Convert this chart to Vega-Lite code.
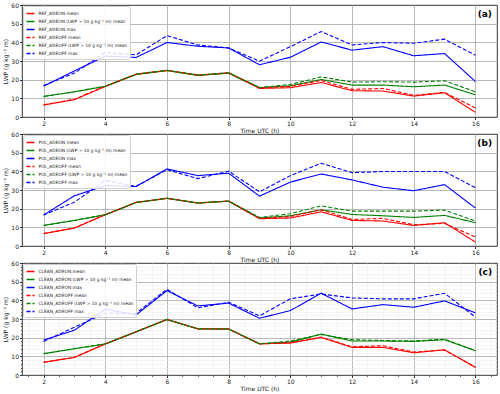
{
"$schema": "https://vega.github.io/schema/vega-lite/v6.json",
"padding": {"left": 2, "top": 1, "right": 4, "bottom": 2},
"config": {"font": "DejaVu Sans", "view": {"stroke": "#000", "strokeWidth": 0.8},
  "axis": {"labelOverlap": false, "labelFlush": false, "titleFontSize": 6, "titleFontWeight": "normal", "titleColor": "#222", "labelFontSize": 6, "labelColor": "#222", "labelPadding": 1, "tickSize": 2.5, "tickColor": "#000", "tickWidth": 0.8, "domain": false, "gridColor": "#b0b0b0", "gridWidth": 0.9},
  "legend": {"title": null, "orient": "top-left", "offset": 1, "labelFontSize": 4.4, "labelColor": "#222", "symbolType": "stroke", "symbolSize": 64, "symbolStrokeWidth": 1.4, "rowPadding": -0.8, "padding": 2.5, "strokeColor": "#d0d0d0", "fillColor": "rgba(255,255,255,0.85)", "cornerRadius": 2, "labelLimit": 300, "labelOffset": 3}},
"data": {"values": [
{"p":"a","s":"REF_ADEON mean","t":2,"v":6.4},{"p":"a","s":"REF_ADEON mean","t":3,"v":9.3},{"p":"a","s":"REF_ADEON mean","t":4,"v":16.4},{"p":"a","s":"REF_ADEON mean","t":5,"v":22.8},{"p":"a","s":"REF_ADEON mean","t":6,"v":24.9},{"p":"a","s":"REF_ADEON mean","t":7,"v":22.3},{"p":"a","s":"REF_ADEON mean","t":8,"v":23.5},{"p":"a","s":"REF_ADEON mean","t":9,"v":15.3},{"p":"a","s":"REF_ADEON mean","t":10,"v":15.7},{"p":"a","s":"REF_ADEON mean","t":11,"v":18.5},{"p":"a","s":"REF_ADEON mean","t":12,"v":14.1},{"p":"a","s":"REF_ADEON mean","t":13,"v":13.9},{"p":"a","s":"REF_ADEON mean","t":14,"v":11.2},{"p":"a","s":"REF_ADEON mean","t":15,"v":13.0},{"p":"a","s":"REF_ADEON mean","t":16,"v":2.5},
{"p":"a","s":"REF_ADEON (LWP > 10 g kg⁻¹ m) mean","t":2,"v":11.0},{"p":"a","s":"REF_ADEON (LWP > 10 g kg⁻¹ m) mean","t":3,"v":13.5},{"p":"a","s":"REF_ADEON (LWP > 10 g kg⁻¹ m) mean","t":4,"v":16.4},{"p":"a","s":"REF_ADEON (LWP > 10 g kg⁻¹ m) mean","t":5,"v":22.8},{"p":"a","s":"REF_ADEON (LWP > 10 g kg⁻¹ m) mean","t":6,"v":24.9},{"p":"a","s":"REF_ADEON (LWP > 10 g kg⁻¹ m) mean","t":7,"v":22.3},{"p":"a","s":"REF_ADEON (LWP > 10 g kg⁻¹ m) mean","t":8,"v":23.5},{"p":"a","s":"REF_ADEON (LWP > 10 g kg⁻¹ m) mean","t":9,"v":15.7},{"p":"a","s":"REF_ADEON (LWP > 10 g kg⁻¹ m) mean","t":10,"v":16.7},{"p":"a","s":"REF_ADEON (LWP > 10 g kg⁻¹ m) mean","t":11,"v":20.1},{"p":"a","s":"REF_ADEON (LWP > 10 g kg⁻¹ m) mean","t":12,"v":17.1},{"p":"a","s":"REF_ADEON (LWP > 10 g kg⁻¹ m) mean","t":13,"v":17.1},{"p":"a","s":"REF_ADEON (LWP > 10 g kg⁻¹ m) mean","t":14,"v":16.2},{"p":"a","s":"REF_ADEON (LWP > 10 g kg⁻¹ m) mean","t":15,"v":17.1},{"p":"a","s":"REF_ADEON (LWP > 10 g kg⁻¹ m) mean","t":16,"v":11.9},
{"p":"a","s":"REF_ADEON max","t":2,"v":16.5},{"p":"a","s":"REF_ADEON max","t":3,"v":24.7},{"p":"a","s":"REF_ADEON max","t":4,"v":32.6},{"p":"a","s":"REF_ADEON max","t":5,"v":31.9},{"p":"a","s":"REF_ADEON max","t":6,"v":39.9},{"p":"a","s":"REF_ADEON max","t":7,"v":37.9},{"p":"a","s":"REF_ADEON max","t":8,"v":37.0},{"p":"a","s":"REF_ADEON max","t":9,"v":28.0},{"p":"a","s":"REF_ADEON max","t":10,"v":32.0},{"p":"a","s":"REF_ADEON max","t":11,"v":40.2},{"p":"a","s":"REF_ADEON max","t":12,"v":35.8},{"p":"a","s":"REF_ADEON max","t":13,"v":37.7},{"p":"a","s":"REF_ADEON max","t":14,"v":32.8},{"p":"a","s":"REF_ADEON max","t":15,"v":34.0},{"p":"a","s":"REF_ADEON max","t":16,"v":19.0},
{"p":"a","s":"REF_ADEOFF mean","t":2,"v":6.5},{"p":"a","s":"REF_ADEOFF mean","t":3,"v":9.5},{"p":"a","s":"REF_ADEOFF mean","t":4,"v":16.5},{"p":"a","s":"REF_ADEOFF mean","t":5,"v":23.0},{"p":"a","s":"REF_ADEOFF mean","t":6,"v":25.0},{"p":"a","s":"REF_ADEOFF mean","t":7,"v":22.5},{"p":"a","s":"REF_ADEOFF mean","t":8,"v":23.7},{"p":"a","s":"REF_ADEOFF mean","t":9,"v":15.7},{"p":"a","s":"REF_ADEOFF mean","t":10,"v":16.4},{"p":"a","s":"REF_ADEOFF mean","t":11,"v":19.6},{"p":"a","s":"REF_ADEOFF mean","t":12,"v":14.8},{"p":"a","s":"REF_ADEOFF mean","t":13,"v":15.3},{"p":"a","s":"REF_ADEOFF mean","t":14,"v":11.6},{"p":"a","s":"REF_ADEOFF mean","t":15,"v":13.2},{"p":"a","s":"REF_ADEOFF mean","t":16,"v":4.8},
{"p":"a","s":"REF_ADEOFF (LWP > 10 g kg⁻¹ m) mean","t":2,"v":11.0},{"p":"a","s":"REF_ADEOFF (LWP > 10 g kg⁻¹ m) mean","t":3,"v":13.5},{"p":"a","s":"REF_ADEOFF (LWP > 10 g kg⁻¹ m) mean","t":4,"v":16.5},{"p":"a","s":"REF_ADEOFF (LWP > 10 g kg⁻¹ m) mean","t":5,"v":23.0},{"p":"a","s":"REF_ADEOFF (LWP > 10 g kg⁻¹ m) mean","t":6,"v":25.0},{"p":"a","s":"REF_ADEOFF (LWP > 10 g kg⁻¹ m) mean","t":7,"v":22.5},{"p":"a","s":"REF_ADEOFF (LWP > 10 g kg⁻¹ m) mean","t":8,"v":23.7},{"p":"a","s":"REF_ADEOFF (LWP > 10 g kg⁻¹ m) mean","t":9,"v":15.8},{"p":"a","s":"REF_ADEOFF (LWP > 10 g kg⁻¹ m) mean","t":10,"v":17.4},{"p":"a","s":"REF_ADEOFF (LWP > 10 g kg⁻¹ m) mean","t":11,"v":21.5},{"p":"a","s":"REF_ADEOFF (LWP > 10 g kg⁻¹ m) mean","t":12,"v":18.7},{"p":"a","s":"REF_ADEOFF (LWP > 10 g kg⁻¹ m) mean","t":13,"v":18.9},{"p":"a","s":"REF_ADEOFF (LWP > 10 g kg⁻¹ m) mean","t":14,"v":18.7},{"p":"a","s":"REF_ADEOFF (LWP > 10 g kg⁻¹ m) mean","t":15,"v":19.4},{"p":"a","s":"REF_ADEOFF (LWP > 10 g kg⁻¹ m) mean","t":16,"v":13.5},
{"p":"a","s":"REF_ADEOFF max","t":2,"v":16.9},{"p":"a","s":"REF_ADEOFF max","t":3,"v":23.5},{"p":"a","s":"REF_ADEOFF max","t":4,"v":34.5},{"p":"a","s":"REF_ADEOFF max","t":5,"v":33.3},{"p":"a","s":"REF_ADEOFF max","t":6,"v":43.6},{"p":"a","s":"REF_ADEOFF max","t":7,"v":38.6},{"p":"a","s":"REF_ADEOFF max","t":8,"v":37.0},{"p":"a","s":"REF_ADEOFF max","t":9,"v":29.9},{"p":"a","s":"REF_ADEOFF max","t":10,"v":37.7},{"p":"a","s":"REF_ADEOFF max","t":11,"v":45.8},{"p":"a","s":"REF_ADEOFF max","t":12,"v":38.6},{"p":"a","s":"REF_ADEOFF max","t":13,"v":39.9},{"p":"a","s":"REF_ADEOFF max","t":14,"v":39.5},{"p":"a","s":"REF_ADEOFF max","t":15,"v":41.7},{"p":"a","s":"REF_ADEOFF max","t":16,"v":33.1},
{"p":"b","s":"POL_ADEON mean","t":2,"v":6.6},{"p":"b","s":"POL_ADEON mean","t":3,"v":9.6},{"p":"b","s":"POL_ADEON mean","t":4,"v":16.7},{"p":"b","s":"POL_ADEON mean","t":5,"v":23.3},{"p":"b","s":"POL_ADEON mean","t":6,"v":25.5},{"p":"b","s":"POL_ADEON mean","t":7,"v":23.0},{"p":"b","s":"POL_ADEON mean","t":8,"v":24.0},{"p":"b","s":"POL_ADEON mean","t":9,"v":14.6},{"p":"b","s":"POL_ADEON mean","t":10,"v":15.0},{"p":"b","s":"POL_ADEON mean","t":11,"v":18.3},{"p":"b","s":"POL_ADEON mean","t":12,"v":13.7},{"p":"b","s":"POL_ADEON mean","t":13,"v":13.4},{"p":"b","s":"POL_ADEON mean","t":14,"v":11.0},{"p":"b","s":"POL_ADEON mean","t":15,"v":12.5},{"p":"b","s":"POL_ADEON mean","t":16,"v":2.1},
{"p":"b","s":"POL_ADEON (LWP > 10 g kg⁻¹ m) mean","t":2,"v":11.0},{"p":"b","s":"POL_ADEON (LWP > 10 g kg⁻¹ m) mean","t":3,"v":13.7},{"p":"b","s":"POL_ADEON (LWP > 10 g kg⁻¹ m) mean","t":4,"v":16.7},{"p":"b","s":"POL_ADEON (LWP > 10 g kg⁻¹ m) mean","t":5,"v":23.3},{"p":"b","s":"POL_ADEON (LWP > 10 g kg⁻¹ m) mean","t":6,"v":25.5},{"p":"b","s":"POL_ADEON (LWP > 10 g kg⁻¹ m) mean","t":7,"v":23.0},{"p":"b","s":"POL_ADEON (LWP > 10 g kg⁻¹ m) mean","t":8,"v":24.0},{"p":"b","s":"POL_ADEON (LWP > 10 g kg⁻¹ m) mean","t":9,"v":15.0},{"p":"b","s":"POL_ADEON (LWP > 10 g kg⁻¹ m) mean","t":10,"v":16.2},{"p":"b","s":"POL_ADEON (LWP > 10 g kg⁻¹ m) mean","t":11,"v":19.4},{"p":"b","s":"POL_ADEON (LWP > 10 g kg⁻¹ m) mean","t":12,"v":16.9},{"p":"b","s":"POL_ADEON (LWP > 10 g kg⁻¹ m) mean","t":13,"v":16.2},{"p":"b","s":"POL_ADEON (LWP > 10 g kg⁻¹ m) mean","t":14,"v":15.3},{"p":"b","s":"POL_ADEON (LWP > 10 g kg⁻¹ m) mean","t":15,"v":16.4},{"p":"b","s":"POL_ADEON (LWP > 10 g kg⁻¹ m) mean","t":16,"v":12.5},
{"p":"b","s":"POL_ADEON max","t":2,"v":16.6},{"p":"b","s":"POL_ADEON max","t":3,"v":26.9},{"p":"b","s":"POL_ADEON max","t":4,"v":32.4},{"p":"b","s":"POL_ADEON max","t":5,"v":31.9},{"p":"b","s":"POL_ADEON max","t":6,"v":41.3},{"p":"b","s":"POL_ADEON max","t":7,"v":37.7},{"p":"b","s":"POL_ADEON max","t":8,"v":39.0},{"p":"b","s":"POL_ADEON max","t":9,"v":26.7},{"p":"b","s":"POL_ADEON max","t":10,"v":34.2},{"p":"b","s":"POL_ADEON max","t":11,"v":38.6},{"p":"b","s":"POL_ADEON max","t":12,"v":35.4},{"p":"b","s":"POL_ADEON max","t":13,"v":31.5},{"p":"b","s":"POL_ADEON max","t":14,"v":29.6},{"p":"b","s":"POL_ADEON max","t":15,"v":32.9},{"p":"b","s":"POL_ADEON max","t":16,"v":20.3},
{"p":"b","s":"POL_ADEOFF mean","t":2,"v":6.7},{"p":"b","s":"POL_ADEOFF mean","t":3,"v":9.7},{"p":"b","s":"POL_ADEOFF mean","t":4,"v":16.8},{"p":"b","s":"POL_ADEOFF mean","t":5,"v":23.4},{"p":"b","s":"POL_ADEOFF mean","t":6,"v":25.6},{"p":"b","s":"POL_ADEOFF mean","t":7,"v":23.1},{"p":"b","s":"POL_ADEOFF mean","t":8,"v":24.1},{"p":"b","s":"POL_ADEOFF mean","t":9,"v":14.8},{"p":"b","s":"POL_ADEOFF mean","t":10,"v":15.8},{"p":"b","s":"POL_ADEOFF mean","t":11,"v":19.4},{"p":"b","s":"POL_ADEOFF mean","t":12,"v":14.2},{"p":"b","s":"POL_ADEOFF mean","t":13,"v":14.8},{"p":"b","s":"POL_ADEOFF mean","t":14,"v":11.4},{"p":"b","s":"POL_ADEOFF mean","t":15,"v":12.1},{"p":"b","s":"POL_ADEOFF mean","t":16,"v":4.8},
{"p":"b","s":"POL_ADEOFF (LWP > 10 g kg⁻¹ m) mean","t":2,"v":11.0},{"p":"b","s":"POL_ADEOFF (LWP > 10 g kg⁻¹ m) mean","t":3,"v":13.7},{"p":"b","s":"POL_ADEOFF (LWP > 10 g kg⁻¹ m) mean","t":4,"v":16.8},{"p":"b","s":"POL_ADEOFF (LWP > 10 g kg⁻¹ m) mean","t":5,"v":23.4},{"p":"b","s":"POL_ADEOFF (LWP > 10 g kg⁻¹ m) mean","t":6,"v":25.6},{"p":"b","s":"POL_ADEOFF (LWP > 10 g kg⁻¹ m) mean","t":7,"v":23.1},{"p":"b","s":"POL_ADEOFF (LWP > 10 g kg⁻¹ m) mean","t":8,"v":24.1},{"p":"b","s":"POL_ADEOFF (LWP > 10 g kg⁻¹ m) mean","t":9,"v":15.3},{"p":"b","s":"POL_ADEOFF (LWP > 10 g kg⁻¹ m) mean","t":10,"v":17.3},{"p":"b","s":"POL_ADEOFF (LWP > 10 g kg⁻¹ m) mean","t":11,"v":21.5},{"p":"b","s":"POL_ADEOFF (LWP > 10 g kg⁻¹ m) mean","t":12,"v":18.7},{"p":"b","s":"POL_ADEOFF (LWP > 10 g kg⁻¹ m) mean","t":13,"v":18.7},{"p":"b","s":"POL_ADEOFF (LWP > 10 g kg⁻¹ m) mean","t":14,"v":18.7},{"p":"b","s":"POL_ADEOFF (LWP > 10 g kg⁻¹ m) mean","t":15,"v":19.2},{"p":"b","s":"POL_ADEOFF (LWP > 10 g kg⁻¹ m) mean","t":16,"v":13.4},
{"p":"b","s":"POL_ADEOFF max","t":2,"v":16.6},{"p":"b","s":"POL_ADEOFF max","t":3,"v":23.5},{"p":"b","s":"POL_ADEOFF max","t":4,"v":35.1},{"p":"b","s":"POL_ADEOFF max","t":5,"v":31.9},{"p":"b","s":"POL_ADEOFF max","t":6,"v":40.9},{"p":"b","s":"POL_ADEOFF max","t":7,"v":36.1},{"p":"b","s":"POL_ADEOFF max","t":8,"v":40.1},{"p":"b","s":"POL_ADEOFF max","t":9,"v":29.0},{"p":"b","s":"POL_ADEOFF max","t":10,"v":37.7},{"p":"b","s":"POL_ADEOFF max","t":11,"v":44.3},{"p":"b","s":"POL_ADEOFF max","t":12,"v":39.3},{"p":"b","s":"POL_ADEOFF max","t":13,"v":39.9},{"p":"b","s":"POL_ADEOFF max","t":14,"v":39.9},{"p":"b","s":"POL_ADEOFF max","t":15,"v":39.9},{"p":"b","s":"POL_ADEOFF max","t":16,"v":31.2},
{"p":"c","s":"CLEAN_ADEON mean","t":2,"v":6.8},{"p":"c","s":"CLEAN_ADEON mean","t":3,"v":9.4},{"p":"c","s":"CLEAN_ADEON mean","t":4,"v":16.6},{"p":"c","s":"CLEAN_ADEON mean","t":5,"v":23.1},{"p":"c","s":"CLEAN_ADEON mean","t":6,"v":29.7},{"p":"c","s":"CLEAN_ADEON mean","t":7,"v":24.7},{"p":"c","s":"CLEAN_ADEON mean","t":8,"v":24.6},{"p":"c","s":"CLEAN_ADEON mean","t":9,"v":16.7},{"p":"c","s":"CLEAN_ADEON mean","t":10,"v":17.1},{"p":"c","s":"CLEAN_ADEON mean","t":11,"v":20.1},{"p":"c","s":"CLEAN_ADEON mean","t":12,"v":14.8},{"p":"c","s":"CLEAN_ADEON mean","t":13,"v":14.8},{"p":"c","s":"CLEAN_ADEON mean","t":14,"v":11.9},{"p":"c","s":"CLEAN_ADEON mean","t":15,"v":13.5},{"p":"c","s":"CLEAN_ADEON mean","t":16,"v":4.1},
{"p":"c","s":"CLEAN_ADEON (LWP > 10 g kg⁻¹ m) mean","t":2,"v":11.4},{"p":"c","s":"CLEAN_ADEON (LWP > 10 g kg⁻¹ m) mean","t":3,"v":14.1},{"p":"c","s":"CLEAN_ADEON (LWP > 10 g kg⁻¹ m) mean","t":4,"v":16.6},{"p":"c","s":"CLEAN_ADEON (LWP > 10 g kg⁻¹ m) mean","t":5,"v":23.1},{"p":"c","s":"CLEAN_ADEON (LWP > 10 g kg⁻¹ m) mean","t":6,"v":29.7},{"p":"c","s":"CLEAN_ADEON (LWP > 10 g kg⁻¹ m) mean","t":7,"v":24.7},{"p":"c","s":"CLEAN_ADEON (LWP > 10 g kg⁻¹ m) mean","t":8,"v":24.6},{"p":"c","s":"CLEAN_ADEON (LWP > 10 g kg⁻¹ m) mean","t":9,"v":16.7},{"p":"c","s":"CLEAN_ADEON (LWP > 10 g kg⁻¹ m) mean","t":10,"v":17.6},{"p":"c","s":"CLEAN_ADEON (LWP > 10 g kg⁻¹ m) mean","t":11,"v":21.9},{"p":"c","s":"CLEAN_ADEON (LWP > 10 g kg⁻¹ m) mean","t":12,"v":18.2},{"p":"c","s":"CLEAN_ADEON (LWP > 10 g kg⁻¹ m) mean","t":13,"v":18.2},{"p":"c","s":"CLEAN_ADEON (LWP > 10 g kg⁻¹ m) mean","t":14,"v":18.0},{"p":"c","s":"CLEAN_ADEON (LWP > 10 g kg⁻¹ m) mean","t":15,"v":18.9},{"p":"c","s":"CLEAN_ADEON (LWP > 10 g kg⁻¹ m) mean","t":16,"v":13.0},
{"p":"c","s":"CLEAN_ADEON max","t":2,"v":18.7},{"p":"c","s":"CLEAN_ADEON max","t":3,"v":24.0},{"p":"c","s":"CLEAN_ADEON max","t":4,"v":35.3},{"p":"c","s":"CLEAN_ADEON max","t":5,"v":32.2},{"p":"c","s":"CLEAN_ADEON max","t":6,"v":45.2},{"p":"c","s":"CLEAN_ADEON max","t":7,"v":37.0},{"p":"c","s":"CLEAN_ADEON max","t":8,"v":38.5},{"p":"c","s":"CLEAN_ADEON max","t":9,"v":30.4},{"p":"c","s":"CLEAN_ADEON max","t":10,"v":34.5},{"p":"c","s":"CLEAN_ADEON max","t":11,"v":43.8},{"p":"c","s":"CLEAN_ADEON max","t":12,"v":35.4},{"p":"c","s":"CLEAN_ADEON max","t":13,"v":37.7},{"p":"c","s":"CLEAN_ADEON max","t":14,"v":36.3},{"p":"c","s":"CLEAN_ADEON max","t":15,"v":39.7},{"p":"c","s":"CLEAN_ADEON max","t":16,"v":33.3},
{"p":"c","s":"CLEAN_ADEOFF mean","t":2,"v":6.8},{"p":"c","s":"CLEAN_ADEOFF mean","t":3,"v":9.5},{"p":"c","s":"CLEAN_ADEOFF mean","t":4,"v":16.7},{"p":"c","s":"CLEAN_ADEOFF mean","t":5,"v":23.2},{"p":"c","s":"CLEAN_ADEOFF mean","t":6,"v":29.8},{"p":"c","s":"CLEAN_ADEOFF mean","t":7,"v":24.8},{"p":"c","s":"CLEAN_ADEOFF mean","t":8,"v":24.7},{"p":"c","s":"CLEAN_ADEOFF mean","t":9,"v":16.7},{"p":"c","s":"CLEAN_ADEOFF mean","t":10,"v":17.4},{"p":"c","s":"CLEAN_ADEOFF mean","t":11,"v":20.3},{"p":"c","s":"CLEAN_ADEOFF mean","t":12,"v":15.1},{"p":"c","s":"CLEAN_ADEOFF mean","t":13,"v":15.7},{"p":"c","s":"CLEAN_ADEOFF mean","t":14,"v":12.3},{"p":"c","s":"CLEAN_ADEOFF mean","t":15,"v":13.4},{"p":"c","s":"CLEAN_ADEOFF mean","t":16,"v":4.1},
{"p":"c","s":"CLEAN_ADEOFF (LWP > 10 g kg⁻¹ m) mean","t":2,"v":11.4},{"p":"c","s":"CLEAN_ADEOFF (LWP > 10 g kg⁻¹ m) mean","t":3,"v":14.1},{"p":"c","s":"CLEAN_ADEOFF (LWP > 10 g kg⁻¹ m) mean","t":4,"v":16.7},{"p":"c","s":"CLEAN_ADEOFF (LWP > 10 g kg⁻¹ m) mean","t":5,"v":23.2},{"p":"c","s":"CLEAN_ADEOFF (LWP > 10 g kg⁻¹ m) mean","t":6,"v":29.8},{"p":"c","s":"CLEAN_ADEOFF (LWP > 10 g kg⁻¹ m) mean","t":7,"v":24.8},{"p":"c","s":"CLEAN_ADEOFF (LWP > 10 g kg⁻¹ m) mean","t":8,"v":24.7},{"p":"c","s":"CLEAN_ADEOFF (LWP > 10 g kg⁻¹ m) mean","t":9,"v":16.7},{"p":"c","s":"CLEAN_ADEOFF (LWP > 10 g kg⁻¹ m) mean","t":10,"v":18.2},{"p":"c","s":"CLEAN_ADEOFF (LWP > 10 g kg⁻¹ m) mean","t":11,"v":21.7},{"p":"c","s":"CLEAN_ADEOFF (LWP > 10 g kg⁻¹ m) mean","t":12,"v":18.9},{"p":"c","s":"CLEAN_ADEOFF (LWP > 10 g kg⁻¹ m) mean","t":13,"v":18.5},{"p":"c","s":"CLEAN_ADEOFF (LWP > 10 g kg⁻¹ m) mean","t":14,"v":18.2},{"p":"c","s":"CLEAN_ADEOFF (LWP > 10 g kg⁻¹ m) mean","t":15,"v":19.2},{"p":"c","s":"CLEAN_ADEOFF (LWP > 10 g kg⁻¹ m) mean","t":16,"v":13.0},
{"p":"c","s":"CLEAN_ADEOFF max","t":2,"v":18.0},{"p":"c","s":"CLEAN_ADEOFF max","t":3,"v":25.6},{"p":"c","s":"CLEAN_ADEOFF max","t":4,"v":33.1},{"p":"c","s":"CLEAN_ADEOFF max","t":5,"v":33.1},{"p":"c","s":"CLEAN_ADEOFF max","t":6,"v":45.9},{"p":"c","s":"CLEAN_ADEOFF max","t":7,"v":36.0},{"p":"c","s":"CLEAN_ADEOFF max","t":8,"v":39.0},{"p":"c","s":"CLEAN_ADEOFF max","t":9,"v":31.7},{"p":"c","s":"CLEAN_ADEOFF max","t":10,"v":40.8},{"p":"c","s":"CLEAN_ADEOFF max","t":11,"v":43.4},{"p":"c","s":"CLEAN_ADEOFF max","t":12,"v":41.3},{"p":"c","s":"CLEAN_ADEOFF max","t":13,"v":40.8},{"p":"c","s":"CLEAN_ADEOFF max","t":14,"v":40.8},{"p":"c","s":"CLEAN_ADEOFF max","t":15,"v":43.8},{"p":"c","s":"CLEAN_ADEOFF max","t":16,"v":31.0}
]},
"spacing": 17,
"bounds": "flush",
"resolve": {"scale": {"color": "independent", "strokeDash": "independent"}, "legend": {"color": "independent", "strokeDash": "independent"}},
"vconcat": [
{"width": 475, "height": 112,
 "resolve": {"axis": {"x": "independent", "y": "independent"}},
 "layer": [
  {"transform": [{"filter": "datum.p === 'a'"}],
   "mark": {"type": "line", "strokeWidth": 1.1},
   "encoding": {
    "x": {"field": "t", "type": "quantitative", "scale": {"domain": [1.3, 16.7], "nice": false, "zero": false},
      "axis": {"orient": "bottom", "values": [2,4,6,8,10,12,14,16], "title": "Time UTC (h)", "titlePadding": 1, "grid": true}},
    "y": {"field": "v", "type": "quantitative", "scale": {"domain": [0, 60], "nice": false},
      "axis": {"orient": "left", "values": [0,10,20,30,40,50,60], "title": "LWP (g kg⁻¹ m)", "titlePadding": 2, "grid": false}},
    "color": {"field": "s", "type": "nominal", "scale": {"domain": ["REF_ADEON mean","REF_ADEON (LWP > 10 g kg⁻¹ m) mean","REF_ADEON max","REF_ADEOFF mean","REF_ADEOFF (LWP > 10 g kg⁻¹ m) mean","REF_ADEOFF max"], "range": ["#ff0000","#008000","#0000ff","#ff0000","#008000","#0000ff"]}},
    "strokeDash": {"field": "s", "type": "nominal", "scale": {"domain": ["REF_ADEON mean","REF_ADEON (LWP > 10 g kg⁻¹ m) mean","REF_ADEON max","REF_ADEOFF mean","REF_ADEOFF (LWP > 10 g kg⁻¹ m) mean","REF_ADEOFF max"], "range": [[1,0],[1,0],[1,0],[4,2],[4,2],[4,2]]}}
   }},
  {"data": {"values": [{}]},
   "mark": {"type": "text", "text": "(a)", "fontWeight": "bold", "fontSize": 9, "align": "right", "baseline": "top", "dx": -5, "dy": 5, "color": "#000"},
   "encoding": {"x": {"datum": 16.7, "axis": null},
     "y": {"datum": 60, "axis": {"orient": "left", "values": [10,20,30,40,50], "grid": true, "labels": false, "ticks": false, "title": null}}}}
 ]},
{"width": 475, "height": 112,
 "resolve": {"axis": {"x": "independent", "y": "independent"}},
 "layer": [
  {"transform": [{"filter": "datum.p === 'b'"}],
   "mark": {"type": "line", "strokeWidth": 1.1},
   "encoding": {
    "x": {"field": "t", "type": "quantitative", "scale": {"domain": [1.3, 16.7], "nice": false, "zero": false},
      "axis": {"orient": "bottom", "values": [2,4,6,8,10,12,14,16], "title": "Time UTC (h)", "titlePadding": 1, "grid": true}},
    "y": {"field": "v", "type": "quantitative", "scale": {"domain": [0, 60], "nice": false},
      "axis": {"orient": "left", "values": [0,10,20,30,40,50,60], "title": "LWP (g kg⁻¹ m)", "titlePadding": 2, "grid": false}},
    "color": {"field": "s", "type": "nominal", "scale": {"domain": ["POL_ADEON mean","POL_ADEON (LWP > 10 g kg⁻¹ m) mean","POL_ADEON max","POL_ADEOFF mean","POL_ADEOFF (LWP > 10 g kg⁻¹ m) mean","POL_ADEOFF max"], "range": ["#ff0000","#008000","#0000ff","#ff0000","#008000","#0000ff"]}},
    "strokeDash": {"field": "s", "type": "nominal", "scale": {"domain": ["POL_ADEON mean","POL_ADEON (LWP > 10 g kg⁻¹ m) mean","POL_ADEON max","POL_ADEOFF mean","POL_ADEOFF (LWP > 10 g kg⁻¹ m) mean","POL_ADEOFF max"], "range": [[1,0],[1,0],[1,0],[4,2],[4,2],[4,2]]}}
   }},
  {"data": {"values": [{}]},
   "mark": {"type": "text", "text": "(b)", "fontWeight": "bold", "fontSize": 9, "align": "right", "baseline": "top", "dx": -5, "dy": 5, "color": "#000"},
   "encoding": {"x": {"datum": 16.7, "axis": null},
     "y": {"datum": 60, "axis": {"orient": "left", "values": [10,20,30,40,50], "grid": true, "labels": false, "ticks": false, "title": null}}}}
 ]},
{"width": 475, "height": 112,
 "resolve": {"axis": {"x": "independent", "y": "independent"}},
 "layer": [
  {"transform": [{"filter": "datum.p === 'c'"}],
   "mark": {"type": "line", "strokeWidth": 1.1},
   "encoding": {
    "x": {"field": "t", "type": "quantitative", "scale": {"domain": [1.3, 16.7], "nice": false, "zero": false},
      "axis": {"orient": "bottom", "values": [2,4,6,8,10,12,14,16], "title": "Time UTC (h)", "titlePadding": 1, "grid": true}},
    "y": {"field": "v", "type": "quantitative", "scale": {"domain": [0, 60], "nice": false},
      "axis": {"orient": "left", "values": [0,10,20,30,40,50,60], "title": "LWP (g kg⁻¹ m)", "titlePadding": 2, "grid": false}},
    "color": {"field": "s", "type": "nominal", "scale": {"domain": ["CLEAN_ADEON mean","CLEAN_ADEON (LWP > 10 g kg⁻¹ m) mean","CLEAN_ADEON max","CLEAN_ADEOFF mean","CLEAN_ADEOFF (LWP > 10 g kg⁻¹ m) mean","CLEAN_ADEOFF max"], "range": ["#ff0000","#008000","#0000ff","#ff0000","#008000","#0000ff"]}},
    "strokeDash": {"field": "s", "type": "nominal", "scale": {"domain": ["CLEAN_ADEON mean","CLEAN_ADEON (LWP > 10 g kg⁻¹ m) mean","CLEAN_ADEON max","CLEAN_ADEOFF mean","CLEAN_ADEOFF (LWP > 10 g kg⁻¹ m) mean","CLEAN_ADEOFF max"], "range": [[1,0],[1,0],[1,0],[4,2],[4,2],[4,2]]}}
   }},
  {"data": {"values": [{}]},
   "mark": {"type": "text", "text": ""},
   "encoding": {"x": {"datum": 2, "axis": {"orient": "bottom", "values": [1.5,2.5,3,3.5,4.5,5,5.5,6.5,7,7.5,8.5,9,9.5,10.5,11,11.5,12.5,13,13.5,14.5,15,15.5,16.5], "grid": true, "gridColor": "#ececec", "gridWidth": 0.6, "labels": false, "tickSize": 1.5, "tickWidth": 0.6, "title": null}},
     "y": {"datum": 0, "axis": {"orient": "left", "values": [2,4,6,8,12,14,16,18,22,24,26,28,32,34,36,38,42,44,46,48,52,54,56,58], "grid": true, "gridColor": "#ececec", "gridWidth": 0.6, "labels": false, "tickSize": 1.5, "tickWidth": 0.6, "title": null}}}},
  {"data": {"values": [{}]},
   "mark": {"type": "text", "text": "(c)", "fontWeight": "bold", "fontSize": 9, "align": "right", "baseline": "top", "dx": -5, "dy": 5, "color": "#000"},
   "encoding": {"x": {"datum": 16.7, "axis": null},
     "y": {"datum": 60, "axis": {"orient": "left", "values": [10,20,30,40,50], "grid": true, "labels": false, "ticks": false, "title": null}}}}
 ]}
]
}
